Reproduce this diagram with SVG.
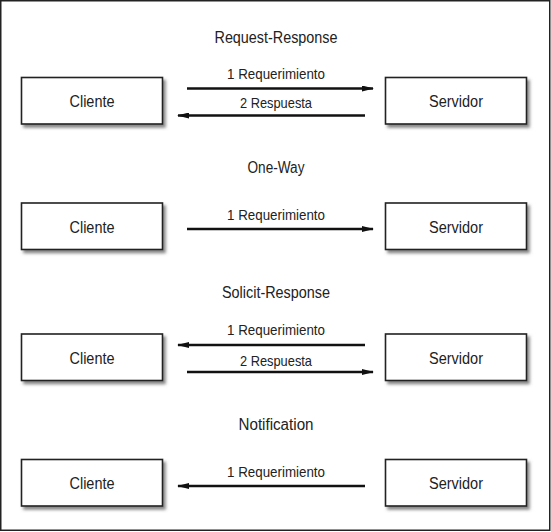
<svg xmlns="http://www.w3.org/2000/svg" width="551" height="532" viewBox="0 0 551 532">
<style>
text{font-family:"Liberation Sans",Arial,sans-serif;fill:#222;text-anchor:middle}
.t{font-size:16px}
.l{font-size:15px}
.n{font-size:16px}
.box{fill:#fff;stroke:#222;stroke-width:1.6;filter:url(#sh)}
.c{stroke:#111;stroke-width:2.6;fill:none}
</style>
<defs>
<filter id="sh" x="-10%" y="-20%" width="130%" height="160%">
<feDropShadow dx="2.5" dy="3" stdDeviation="1.8" flood-color="#555" flood-opacity="0.7"/>
</filter>
<marker id="ah" viewBox="0 0 12 6" refX="11" refY="3" markerUnits="userSpaceOnUse" markerWidth="12" markerHeight="6" orient="auto">
<path d="M0,0 L12,3 L0,6 Z" fill="#111"/>
</marker>
</defs>
<rect x="0.75" y="0.75" width="549" height="529.5" fill="#fff" stroke="#222" stroke-width="1.5"/>
<g id="titles">
<text class="t" x="276" y="43" textLength="123" lengthAdjust="spacingAndGlyphs">Request-Response</text>
<text class="t" x="276" y="173" textLength="57" lengthAdjust="spacingAndGlyphs">One-Way</text>
<text class="t" x="276" y="298" textLength="108" lengthAdjust="spacingAndGlyphs">Solicit-Response</text>
<text class="t" x="276" y="430" textLength="75" lengthAdjust="spacingAndGlyphs">Notification</text>
</g>
<g id="cliente1"><rect class="box" x="21.5" y="77.5" width="141" height="46.5"/><text class="n" x="92" y="107" textLength="45" lengthAdjust="spacingAndGlyphs">Cliente</text></g>
<g id="servidor1"><rect class="box" x="385.5" y="77.5" width="141" height="46.5"/><text class="n" x="456" y="107" textLength="54" lengthAdjust="spacingAndGlyphs">Servidor</text></g>
<g id="cliente2"><rect class="box" x="21.5" y="203" width="141" height="46.5"/><text class="n" x="92" y="232.5" textLength="45" lengthAdjust="spacingAndGlyphs">Cliente</text></g>
<g id="servidor2"><rect class="box" x="385.5" y="203" width="141" height="46.5"/><text class="n" x="456" y="232.5" textLength="54" lengthAdjust="spacingAndGlyphs">Servidor</text></g>
<g id="cliente3"><rect class="box" x="21.5" y="334" width="141" height="46.5"/><text class="n" x="92" y="363.5" textLength="45" lengthAdjust="spacingAndGlyphs">Cliente</text></g>
<g id="servidor3"><rect class="box" x="385.5" y="334" width="141" height="46.5"/><text class="n" x="456" y="363.5" textLength="54" lengthAdjust="spacingAndGlyphs">Servidor</text></g>
<g id="cliente4"><rect class="box" x="21.5" y="459.5" width="141" height="46.5"/><text class="n" x="92" y="489" textLength="45" lengthAdjust="spacingAndGlyphs">Cliente</text></g>
<g id="servidor4"><rect class="box" x="385.5" y="459.5" width="141" height="46.5"/><text class="n" x="456" y="489" textLength="54" lengthAdjust="spacingAndGlyphs">Servidor</text></g>
<g id="connectors">
<line class="c" x1="187" y1="88.5" x2="373" y2="88.5" marker-end="url(#ah)"/>
<text class="l" x="276" y="79" textLength="98" lengthAdjust="spacingAndGlyphs">1 Requerimiento</text>
<line class="c" x1="365" y1="115.5" x2="178" y2="115.5" marker-end="url(#ah)"/>
<text class="l" x="276" y="108" textLength="72" lengthAdjust="spacingAndGlyphs">2 Respuesta</text>
<line class="c" x1="187" y1="229" x2="373" y2="229" marker-end="url(#ah)"/>
<text class="l" x="276" y="220" textLength="98" lengthAdjust="spacingAndGlyphs">1 Requerimiento</text>
<line class="c" x1="365" y1="345" x2="178" y2="345" marker-end="url(#ah)"/>
<text class="l" x="276" y="335" textLength="98" lengthAdjust="spacingAndGlyphs">1 Requerimiento</text>
<line class="c" x1="187" y1="372" x2="373" y2="372" marker-end="url(#ah)"/>
<text class="l" x="276" y="366" textLength="72" lengthAdjust="spacingAndGlyphs">2 Respuesta</text>
<line class="c" x1="365" y1="486" x2="178" y2="486" marker-end="url(#ah)"/>
<text class="l" x="276" y="477" textLength="98" lengthAdjust="spacingAndGlyphs">1 Requerimiento</text>
</g>
</svg>
